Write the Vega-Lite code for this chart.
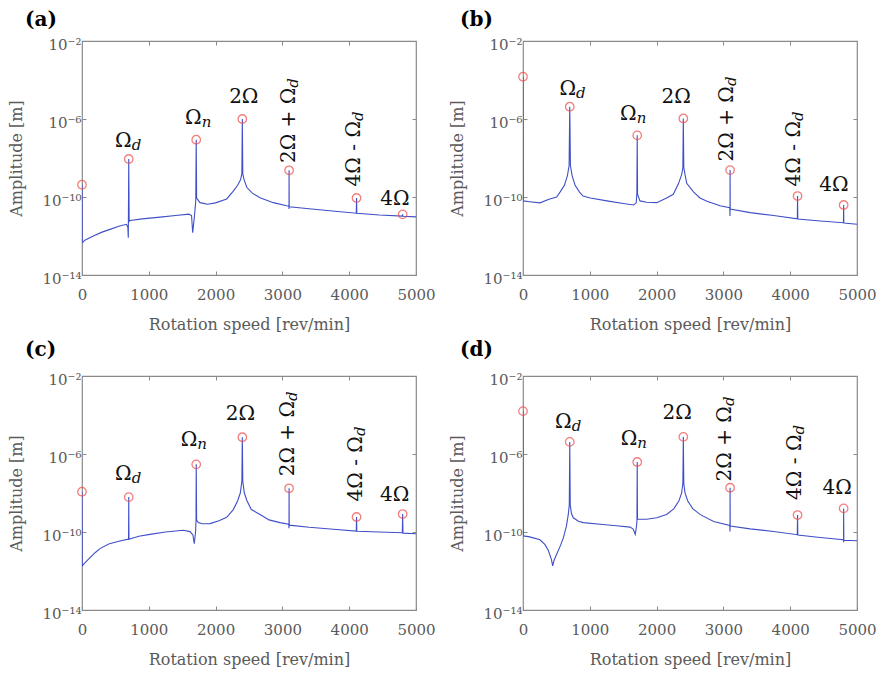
{
 "$schema": "https://vega.github.io/schema/vega-lite/v6.json",
 "background": "white",
 "padding": {"left": 8, "top": 9, "right": 5, "bottom": 5},
 "datasets": {
  "curve": [
   {"panel":"a","speed":0,"amp":4.27e-10},{"panel":"a","speed":3,"amp":4.57e-13},{"panel":"a","speed":50,"amp":6.31e-13},{"panel":"a","speed":170,"amp":1e-12},{"panel":"a","speed":300,"amp":1.58e-12},{"panel":"a","speed":420,"amp":2.19e-12},{"panel":"a","speed":550,"amp":3.16e-12},{"panel":"a","speed":665,"amp":3.98e-12},{"panel":"a","speed":686,"amp":2.82e-12},{"panel":"a","speed":693,"amp":8.13e-13},{"panel":"a","speed":700,"amp":8.91e-9},{"panel":"a","speed":706,"amp":5.62e-12},{"panel":"a","speed":720,"amp":6.31e-12},{"panel":"a","speed":900,"amp":7.59e-12},{"panel":"a","speed":1170,"amp":9.33e-12},{"panel":"a","speed":1400,"amp":1.12e-11},{"panel":"a","speed":1600,"amp":1.32e-11},{"panel":"a","speed":1640,"amp":1.12e-11},{"panel":"a","speed":1657,"amp":1.48e-12},{"panel":"a","speed":1680,"amp":7.94e-12},{"panel":"a","speed":1703,"amp":6.31e-11},{"panel":"a","speed":1710,"amp":8.71e-8},{"panel":"a","speed":1716,"amp":8.91e-11},{"panel":"a","speed":1766,"amp":5.13e-11},{"panel":"a","speed":1880,"amp":4.27e-11},{"panel":"a","speed":2000,"amp":5.01e-11},{"panel":"a","speed":2166,"amp":7.94e-11},{"panel":"a","speed":2265,"amp":2.0e-10},{"panel":"a","speed":2330,"amp":3.98e-10},{"panel":"a","speed":2375,"amp":7.94e-10},{"panel":"a","speed":2393,"amp":1.58e-9},{"panel":"a","speed":2400,"amp":1e-6},{"panel":"a","speed":2407,"amp":1.58e-9},{"panel":"a","speed":2425,"amp":7.94e-10},{"panel":"a","speed":2466,"amp":3.16e-10},{"panel":"a","speed":2550,"amp":1.58e-10},{"panel":"a","speed":2665,"amp":9.12e-11},{"panel":"a","speed":2864,"amp":5.13e-11},{"panel":"a","speed":3064,"amp":3.55e-11},{"panel":"a","speed":3098,"amp":3.39e-11},{"panel":"a","speed":3099,"amp":2.40e-11},{"panel":"a","speed":3100,"amp":2.34e-9},{"panel":"a","speed":3102,"amp":3.16e-11},{"panel":"a","speed":3400,"amp":2.51e-11},{"panel":"a","speed":3750,"amp":1.91e-11},{"panel":"a","speed":4106,"amp":1.48e-11},{"panel":"a","speed":4110,"amp":8.91e-11},{"panel":"a","speed":4114,"amp":1.45e-11},{"panel":"a","speed":4450,"amp":1.20e-11},{"panel":"a","speed":4797,"amp":1.05e-11},{"panel":"a","speed":4800,"amp":1.29e-11},{"panel":"a","speed":4803,"amp":1.02e-11},{"panel":"a","speed":5000,"amp":9.55e-12},
   {"panel":"b","speed":0,"amp":1.48e-4},{"panel":"b","speed":3,"amp":6.31e-11},{"panel":"b","speed":100,"amp":5.75e-11},{"panel":"b","speed":254,"amp":5.01e-11},{"panel":"b","speed":400,"amp":7.94e-11},{"panel":"b","speed":504,"amp":1e-10},{"panel":"b","speed":554,"amp":1.78e-10},{"panel":"b","speed":620,"amp":3.98e-10},{"panel":"b","speed":665,"amp":1.26e-9},{"panel":"b","speed":690,"amp":3.98e-9},{"panel":"b","speed":700,"amp":4.27e-6},{"panel":"b","speed":710,"amp":3.98e-9},{"panel":"b","speed":735,"amp":1.26e-9},{"panel":"b","speed":780,"amp":3.98e-10},{"panel":"b","speed":846,"amp":1.78e-10},{"panel":"b","speed":900,"amp":1.12e-10},{"panel":"b","speed":1008,"amp":8.91e-11},{"panel":"b","speed":1257,"amp":6.31e-11},{"panel":"b","speed":1500,"amp":4.68e-11},{"panel":"b","speed":1657,"amp":3.89e-11},{"panel":"b","speed":1695,"amp":5.01e-11},{"panel":"b","speed":1705,"amp":1.58e-10},{"panel":"b","speed":1710,"amp":1.45e-7},{"panel":"b","speed":1715,"amp":1.38e-10},{"panel":"b","speed":1751,"amp":6.31e-11},{"panel":"b","speed":1850,"amp":5.37e-11},{"panel":"b","speed":2001,"amp":5.13e-11},{"panel":"b","speed":2150,"amp":8.91e-11},{"panel":"b","speed":2250,"amp":1.38e-10},{"panel":"b","speed":2330,"amp":5.01e-10},{"panel":"b","speed":2376,"amp":1.45e-9},{"panel":"b","speed":2393,"amp":3.16e-9},{"panel":"b","speed":2400,"amp":1.07e-6},{"panel":"b","speed":2407,"amp":3.16e-9},{"panel":"b","speed":2425,"amp":1.45e-9},{"panel":"b","speed":2451,"amp":5.01e-10},{"panel":"b","speed":2555,"amp":1.78e-10},{"panel":"b","speed":2650,"amp":8.91e-11},{"panel":"b","speed":2754,"amp":6.03e-11},{"panel":"b","speed":2950,"amp":3.55e-11},{"panel":"b","speed":3095,"amp":2.82e-11},{"panel":"b","speed":3099,"amp":1.07e-11},{"panel":"b","speed":3100,"amp":2.40e-9},{"panel":"b","speed":3102,"amp":2.40e-11},{"panel":"b","speed":3400,"amp":1.58e-11},{"panel":"b","speed":3752,"amp":1.12e-11},{"panel":"b","speed":4107,"amp":7.59e-12},{"panel":"b","speed":4110,"amp":1.12e-10},{"panel":"b","speed":4114,"amp":7.41e-12},{"panel":"b","speed":4450,"amp":5.89e-12},{"panel":"b","speed":4797,"amp":4.79e-12},{"panel":"b","speed":4800,"amp":3.89e-11},{"panel":"b","speed":4803,"amp":4.68e-12},{"panel":"b","speed":5000,"amp":3.98e-12},
   {"panel":"c","speed":0,"amp":1.17e-8},{"panel":"c","speed":3,"amp":1.82e-12},{"panel":"c","speed":40,"amp":2.51e-12},{"panel":"c","speed":120,"amp":4.79e-12},{"panel":"c","speed":200,"amp":8.91e-12},{"panel":"c","speed":269,"amp":1.41e-11},{"panel":"c","speed":400,"amp":2.40e-11},{"panel":"c","speed":550,"amp":3.39e-11},{"panel":"c","speed":693,"amp":4.27e-11},{"panel":"c","speed":697,"amp":3.98e-11},{"panel":"c","speed":700,"amp":6.17e-9},{"panel":"c","speed":703,"amp":4.27e-11},{"panel":"c","speed":850,"amp":6.03e-11},{"panel":"c","speed":1018,"amp":7.59e-11},{"panel":"c","speed":1250,"amp":1e-10},{"panel":"c","speed":1517,"amp":1.23e-10},{"panel":"c","speed":1617,"amp":1.05e-10},{"panel":"c","speed":1660,"amp":7.08e-11},{"panel":"c","speed":1681,"amp":2.51e-11},{"panel":"c","speed":1700,"amp":1e-10},{"panel":"c","speed":1707,"amp":3.98e-10},{"panel":"c","speed":1710,"amp":2.95e-7},{"panel":"c","speed":1716,"amp":3.98e-10},{"panel":"c","speed":1741,"amp":3.02e-10},{"panel":"c","speed":1800,"amp":2.63e-10},{"panel":"c","speed":1916,"amp":2.69e-10},{"panel":"c","speed":2050,"amp":3.80e-10},{"panel":"c","speed":2166,"amp":5.62e-10},{"panel":"c","speed":2265,"amp":1.41e-9},{"panel":"c","speed":2330,"amp":3.98e-9},{"panel":"c","speed":2370,"amp":1e-8},{"panel":"c","speed":2393,"amp":3.98e-8},{"panel":"c","speed":2400,"amp":7.24e-6},{"panel":"c","speed":2407,"amp":3.98e-8},{"panel":"c","speed":2430,"amp":1e-8},{"panel":"c","speed":2470,"amp":3.98e-9},{"panel":"c","speed":2535,"amp":1.41e-9},{"panel":"c","speed":2665,"amp":7.94e-10},{"panel":"c","speed":2800,"amp":4.17e-10},{"panel":"c","speed":2964,"amp":3.02e-10},{"panel":"c","speed":3095,"amp":2.51e-10},{"panel":"c","speed":3099,"amp":1.58e-10},{"panel":"c","speed":3100,"amp":1.74e-8},{"panel":"c","speed":3102,"amp":2.24e-10},{"panel":"c","speed":3400,"amp":1.74e-10},{"panel":"c","speed":3762,"amp":1.38e-10},{"panel":"c","speed":4106,"amp":1.12e-10},{"panel":"c","speed":4110,"amp":5.89e-10},{"panel":"c","speed":4114,"amp":1.10e-10},{"panel":"c","speed":4450,"amp":1e-10},{"panel":"c","speed":4795,"amp":9.12e-11},{"panel":"c","speed":4800,"amp":8.32e-10},{"panel":"c","speed":4805,"amp":8.71e-11},{"panel":"c","speed":5000,"amp":8.13e-11},
   {"panel":"d","speed":0,"amp":1.58e-4},{"panel":"d","speed":3,"amp":6.31e-11},{"panel":"d","speed":100,"amp":5.62e-11},{"panel":"d","speed":254,"amp":3.98e-11},{"panel":"d","speed":330,"amp":2.24e-11},{"panel":"d","speed":379,"amp":1.12e-11},{"panel":"d","speed":425,"amp":3.98e-12},{"panel":"d","speed":444,"amp":1.82e-12},{"panel":"d","speed":465,"amp":3.55e-12},{"panel":"d","speed":504,"amp":7.24e-12},{"panel":"d","speed":560,"amp":2.0e-11},{"panel":"d","speed":604,"amp":5.01e-11},{"panel":"d","speed":650,"amp":2.0e-10},{"panel":"d","speed":678,"amp":7.94e-10},{"panel":"d","speed":693,"amp":2.51e-9},{"panel":"d","speed":700,"amp":4.17e-6},{"panel":"d","speed":707,"amp":2.51e-9},{"panel":"d","speed":725,"amp":8.91e-10},{"panel":"d","speed":753,"amp":5.37e-10},{"panel":"d","speed":830,"amp":3.55e-10},{"panel":"d","speed":903,"amp":3.02e-10},{"panel":"d","speed":1153,"amp":2.51e-10},{"panel":"d","speed":1400,"amp":2.09e-10},{"panel":"d","speed":1602,"amp":1.78e-10},{"panel":"d","speed":1650,"amp":1.41e-10},{"panel":"d","speed":1680,"amp":7.59e-11},{"panel":"d","speed":1700,"amp":2.0e-10},{"panel":"d","speed":1706,"amp":3.98e-10},{"panel":"d","speed":1710,"amp":3.89e-7},{"panel":"d","speed":1714,"amp":4.47e-10},{"panel":"d","speed":1751,"amp":4.47e-10},{"panel":"d","speed":1850,"amp":4.47e-10},{"panel":"d","speed":2001,"amp":5.37e-10},{"panel":"d","speed":2150,"amp":7.94e-10},{"panel":"d","speed":2260,"amp":1.58e-9},{"panel":"d","speed":2335,"amp":3.98e-9},{"panel":"d","speed":2375,"amp":1e-8},{"panel":"d","speed":2393,"amp":3.16e-8},{"panel":"d","speed":2400,"amp":7.59e-6},{"panel":"d","speed":2407,"amp":3.16e-8},{"panel":"d","speed":2425,"amp":1e-8},{"panel":"d","speed":2465,"amp":3.98e-9},{"panel":"d","speed":2540,"amp":1.58e-9},{"panel":"d","speed":2655,"amp":7.76e-10},{"panel":"d","speed":2854,"amp":3.47e-10},{"panel":"d","speed":3095,"amp":2.19e-10},{"panel":"d","speed":3099,"amp":1.07e-10},{"panel":"d","speed":3100,"amp":1.86e-8},{"panel":"d","speed":3102,"amp":2.0e-10},{"panel":"d","speed":3400,"amp":1.45e-10},{"panel":"d","speed":3752,"amp":1.07e-10},{"panel":"d","speed":4106,"amp":7.24e-11},{"panel":"d","speed":4110,"amp":7.41e-10},{"panel":"d","speed":4114,"amp":7.08e-11},{"panel":"d","speed":4450,"amp":5.25e-11},{"panel":"d","speed":4797,"amp":3.98e-11},{"panel":"d","speed":4799,"amp":3.02e-11},{"panel":"d","speed":4800,"amp":1.62e-9},{"panel":"d","speed":4803,"amp":3.80e-11},{"panel":"d","speed":5000,"amp":3.55e-11}
  ],
  "peak": [
   {"panel":"a","speed":0,"amp":4.27e-10},{"panel":"a","speed":700,"amp":8.91e-9},{"panel":"a","speed":1710,"amp":8.71e-8},{"panel":"a","speed":2400,"amp":1e-6},{"panel":"a","speed":3100,"amp":2.34e-9},{"panel":"a","speed":4110,"amp":8.91e-11},{"panel":"a","speed":4800,"amp":1.29e-11},
   {"panel":"b","speed":0,"amp":1.48e-4},{"panel":"b","speed":700,"amp":4.27e-6},{"panel":"b","speed":1710,"amp":1.45e-7},{"panel":"b","speed":2400,"amp":1.07e-6},{"panel":"b","speed":3100,"amp":2.40e-9},{"panel":"b","speed":4110,"amp":1.12e-10},{"panel":"b","speed":4800,"amp":3.89e-11},
   {"panel":"c","speed":0,"amp":1.17e-8},{"panel":"c","speed":700,"amp":6.17e-9},{"panel":"c","speed":1710,"amp":2.95e-7},{"panel":"c","speed":2400,"amp":7.24e-6},{"panel":"c","speed":3100,"amp":1.74e-8},{"panel":"c","speed":4110,"amp":5.89e-10},{"panel":"c","speed":4800,"amp":8.32e-10},
   {"panel":"d","speed":0,"amp":1.58e-4},{"panel":"d","speed":700,"amp":4.17e-6},{"panel":"d","speed":1710,"amp":3.89e-7},{"panel":"d","speed":2400,"amp":7.59e-6},{"panel":"d","speed":3100,"amp":1.86e-8},{"panel":"d","speed":4110,"amp":7.41e-10},{"panel":"d","speed":4800,"amp":1.62e-9}
  ],
  "label": [
   {"panel":"a","speed":744,"amp":3.66e-8,"main":"Ω","sub":"d","dir":"h"},{"panel":"a","speed":1792,"amp":5.35e-7,"main":"Ω","sub":"n","dir":"h"},{"panel":"a","speed":2422,"amp":6.85e-6,"main":"2Ω","sub":"","dir":"h"},{"panel":"a","speed":3189,"amp":4.03e-5,"main":"2Ω + Ω","sub":"d","dir":"v"},{"panel":"a","speed":4162,"amp":7.89e-7,"main":"4Ω - Ω","sub":"d","dir":"v"},{"panel":"a","speed":4686,"amp":3.89e-11,"main":"4Ω","sub":"","dir":"h"},
   {"panel":"b","speed":793,"amp":1.70e-5,"main":"Ω","sub":"d","dir":"h"},{"panel":"b","speed":1702,"amp":8.51e-7,"main":"Ω","sub":"n","dir":"h"},{"panel":"b","speed":2293,"amp":6.85e-6,"main":"2Ω","sub":"","dir":"h"},{"panel":"b","speed":3139,"amp":4.90e-5,"main":"2Ω + Ω","sub":"d","dir":"v"},{"panel":"b","speed":4147,"amp":7.89e-7,"main":"4Ω - Ω","sub":"d","dir":"v"},{"panel":"b","speed":4653,"amp":2.04e-10,"main":"4Ω","sub":"","dir":"h"},
   {"panel":"c","speed":744,"amp":4.47e-8,"main":"Ω","sub":"d","dir":"h"},{"panel":"c","speed":1726,"amp":2.57e-6,"main":"Ω","sub":"n","dir":"h"},{"panel":"c","speed":2373,"amp":5.50e-5,"main":"2Ω","sub":"","dir":"h"},{"panel":"c","speed":3174,"amp":5.25e-4,"main":"2Ω + Ω","sub":"d","dir":"v"},{"panel":"c","speed":4196,"amp":8.32e-6,"main":"4Ω - Ω","sub":"d","dir":"v"},{"panel":"c","speed":4681,"amp":3.89e-9,"main":"4Ω","sub":"","dir":"h"},
   {"panel":"d","speed":729,"amp":2.09e-5,"main":"Ω","sub":"d","dir":"h"},{"panel":"d","speed":1711,"amp":2.82e-6,"main":"Ω","sub":"n","dir":"h"},{"panel":"d","speed":2308,"amp":6.03e-5,"main":"2Ω","sub":"","dir":"h"},{"panel":"d","speed":3109,"amp":2.88e-4,"main":"2Ω + Ω","sub":"d","dir":"v"},{"panel":"d","speed":4157,"amp":1e-5,"main":"4Ω - Ω","sub":"d","dir":"v"},{"panel":"d","speed":4703,"amp":8.51e-9,"main":"4Ω","sub":"","dir":"h"}
  ],
  "tag": [
   {"panel":"a","speed":-853,"amp":5.89e-2,"tag":"(a)"},{"panel":"b","speed":-943,"amp":5.89e-2,"tag":"(b)"},{"panel":"c","speed":-853,"amp":1.07e-1,"tag":"(c)"},{"panel":"d","speed":-943,"amp":1.07e-1,"tag":"(d)"}
  ]
 },
 "columns": 2,
 "spacing": {"row": 101, "column": 107},
 "bounds": "flush",
 "concat": [
  {"width":334,"height":234,"resolve":{"axis":{"x":"independent","y":"independent"}},
   "layer":[
    {"data":{"name":"curve"},"transform":[{"filter":"datum.panel=='a'"}],"mark":{"type":"line","color":"#3f4fc8","strokeWidth":1.1,"clip":true},
     "encoding":{"x":{"field":"speed","type":"quantitative","scale":{"domain":[0,5000]},"axis":{"orient":"bottom","values":[0,1000,2000,3000,4000,5000],"format":"d","title":"Rotation speed [rev/min]"}},
                 "y":{"field":"amp","type":"quantitative","scale":{"type":"log","domain":[1e-14,1e-2]},"axis":{"orient":"left","values":[1e-14,1e-10,1e-6,1e-2],"title":"Amplitude [m]","labelExpr":"'10' + (round(log(datum.value)/LN10) == -2 ? '⁻²' : round(log(datum.value)/LN10) == -6 ? '⁻⁶' : round(log(datum.value)/LN10) == -10 ? '⁻¹⁰' : '⁻¹⁴')"}}}},
    {"data":{"name":"peak"},"transform":[{"filter":"datum.panel=='a'"}],"mark":{"type":"point","shape":"circle","filled":false,"size":72,"color":"#f04848","strokeWidth":1.3},
     "encoding":{"x":{"field":"speed","type":"quantitative","scale":{"domain":[0,5000]},"axis":{"orient":"top","values":[1000,2000,3000,4000],"labels":false,"title":null}},
                 "y":{"field":"amp","type":"quantitative","scale":{"type":"log","domain":[1e-14,1e-2]},"axis":{"orient":"right","values":[1e-10,1e-6],"labels":false,"title":null}}}},
    {"data":{"name":"tag"},"transform":[{"filter":"datum.panel=='a'"}],"mark":{"type":"text","fontSize":20,"fontWeight":"bold","color":"#000","align":"left","baseline":"alphabetic"},
     "encoding":{"x":{"field":"speed","type":"quantitative","scale":{"domain":[0,5000]},"axis":null},"y":{"field":"amp","type":"quantitative","scale":{"type":"log","domain":[1e-14,1e-2]},"axis":null},"text":{"field":"tag"}}},
    {"data":{"name":"label"},"transform":[{"filter":"datum.panel=='a' && datum.sub==''"}],"mark":{"type":"text","fontSize":20,"color":"#111","align":"center","baseline":"alphabetic"},
     "encoding":{"x":{"field":"speed","type":"quantitative","scale":{"domain":[0,5000]},"axis":null},"y":{"field":"amp","type":"quantitative","scale":{"type":"log","domain":[1e-14,1e-2]},"axis":null},"text":{"field":"main"}}},
    {"data":{"name":"label"},"transform":[{"filter":"datum.panel=='a' && datum.sub!='' && datum.dir=='h'"}],"mark":{"type":"text","fontSize":20,"color":"#111","align":"right","baseline":"alphabetic"},
     "encoding":{"x":{"field":"speed","type":"quantitative","scale":{"domain":[0,5000]},"axis":null},"y":{"field":"amp","type":"quantitative","scale":{"type":"log","domain":[1e-14,1e-2]},"axis":null},"text":{"field":"main"}}},
    {"data":{"name":"label"},"transform":[{"filter":"datum.panel=='a' && datum.sub!='' && datum.dir=='h'"}],"mark":{"type":"text","fontSize":15,"fontStyle":"italic","color":"#111","align":"left","baseline":"alphabetic","dy":3},
     "encoding":{"x":{"field":"speed","type":"quantitative","scale":{"domain":[0,5000]},"axis":null},"y":{"field":"amp","type":"quantitative","scale":{"type":"log","domain":[1e-14,1e-2]},"axis":null},"text":{"field":"sub"}}},
    {"data":{"name":"label"},"transform":[{"filter":"datum.panel=='a' && datum.dir=='v'"}],"mark":{"type":"text","fontSize":20,"color":"#111","align":"right","baseline":"alphabetic","angle":270},
     "encoding":{"x":{"field":"speed","type":"quantitative","scale":{"domain":[0,5000]},"axis":null},"y":{"field":"amp","type":"quantitative","scale":{"type":"log","domain":[1e-14,1e-2]},"axis":null},"text":{"field":"main"}}},
    {"data":{"name":"label"},"transform":[{"filter":"datum.panel=='a' && datum.dir=='v'"}],"mark":{"type":"text","fontSize":15,"fontStyle":"italic","color":"#111","align":"left","baseline":"alphabetic","angle":270,"dy":3},
     "encoding":{"x":{"field":"speed","type":"quantitative","scale":{"domain":[0,5000]},"axis":null},"y":{"field":"amp","type":"quantitative","scale":{"type":"log","domain":[1e-14,1e-2]},"axis":null},"text":{"field":"sub"}}}
   ]},
  {"width":334,"height":234,"resolve":{"axis":{"x":"independent","y":"independent"}},
   "layer":[
    {"data":{"name":"curve"},"transform":[{"filter":"datum.panel=='b'"}],"mark":{"type":"line","color":"#3f4fc8","strokeWidth":1.1,"clip":true},
     "encoding":{"x":{"field":"speed","type":"quantitative","scale":{"domain":[0,5000]},"axis":{"orient":"bottom","values":[0,1000,2000,3000,4000,5000],"format":"d","title":"Rotation speed [rev/min]"}},
                 "y":{"field":"amp","type":"quantitative","scale":{"type":"log","domain":[1e-14,1e-2]},"axis":{"orient":"left","values":[1e-14,1e-10,1e-6,1e-2],"title":"Amplitude [m]","labelExpr":"'10' + (round(log(datum.value)/LN10) == -2 ? '⁻²' : round(log(datum.value)/LN10) == -6 ? '⁻⁶' : round(log(datum.value)/LN10) == -10 ? '⁻¹⁰' : '⁻¹⁴')"}}}},
    {"data":{"name":"peak"},"transform":[{"filter":"datum.panel=='b'"}],"mark":{"type":"point","shape":"circle","filled":false,"size":72,"color":"#f04848","strokeWidth":1.3},
     "encoding":{"x":{"field":"speed","type":"quantitative","scale":{"domain":[0,5000]},"axis":{"orient":"top","values":[1000,2000,3000,4000],"labels":false,"title":null}},
                 "y":{"field":"amp","type":"quantitative","scale":{"type":"log","domain":[1e-14,1e-2]},"axis":{"orient":"right","values":[1e-10,1e-6],"labels":false,"title":null}}}},
    {"data":{"name":"tag"},"transform":[{"filter":"datum.panel=='b'"}],"mark":{"type":"text","fontSize":20,"fontWeight":"bold","color":"#000","align":"left","baseline":"alphabetic"},
     "encoding":{"x":{"field":"speed","type":"quantitative","scale":{"domain":[0,5000]},"axis":null},"y":{"field":"amp","type":"quantitative","scale":{"type":"log","domain":[1e-14,1e-2]},"axis":null},"text":{"field":"tag"}}},
    {"data":{"name":"label"},"transform":[{"filter":"datum.panel=='b' && datum.sub==''"}],"mark":{"type":"text","fontSize":20,"color":"#111","align":"center","baseline":"alphabetic"},
     "encoding":{"x":{"field":"speed","type":"quantitative","scale":{"domain":[0,5000]},"axis":null},"y":{"field":"amp","type":"quantitative","scale":{"type":"log","domain":[1e-14,1e-2]},"axis":null},"text":{"field":"main"}}},
    {"data":{"name":"label"},"transform":[{"filter":"datum.panel=='b' && datum.sub!='' && datum.dir=='h'"}],"mark":{"type":"text","fontSize":20,"color":"#111","align":"right","baseline":"alphabetic"},
     "encoding":{"x":{"field":"speed","type":"quantitative","scale":{"domain":[0,5000]},"axis":null},"y":{"field":"amp","type":"quantitative","scale":{"type":"log","domain":[1e-14,1e-2]},"axis":null},"text":{"field":"main"}}},
    {"data":{"name":"label"},"transform":[{"filter":"datum.panel=='b' && datum.sub!='' && datum.dir=='h'"}],"mark":{"type":"text","fontSize":15,"fontStyle":"italic","color":"#111","align":"left","baseline":"alphabetic","dy":3},
     "encoding":{"x":{"field":"speed","type":"quantitative","scale":{"domain":[0,5000]},"axis":null},"y":{"field":"amp","type":"quantitative","scale":{"type":"log","domain":[1e-14,1e-2]},"axis":null},"text":{"field":"sub"}}},
    {"data":{"name":"label"},"transform":[{"filter":"datum.panel=='b' && datum.dir=='v'"}],"mark":{"type":"text","fontSize":20,"color":"#111","align":"right","baseline":"alphabetic","angle":270},
     "encoding":{"x":{"field":"speed","type":"quantitative","scale":{"domain":[0,5000]},"axis":null},"y":{"field":"amp","type":"quantitative","scale":{"type":"log","domain":[1e-14,1e-2]},"axis":null},"text":{"field":"main"}}},
    {"data":{"name":"label"},"transform":[{"filter":"datum.panel=='b' && datum.dir=='v'"}],"mark":{"type":"text","fontSize":15,"fontStyle":"italic","color":"#111","align":"left","baseline":"alphabetic","angle":270,"dy":3},
     "encoding":{"x":{"field":"speed","type":"quantitative","scale":{"domain":[0,5000]},"axis":null},"y":{"field":"amp","type":"quantitative","scale":{"type":"log","domain":[1e-14,1e-2]},"axis":null},"text":{"field":"sub"}}}
   ]},
  {"width":334,"height":234,"resolve":{"axis":{"x":"independent","y":"independent"}},
   "layer":[
    {"data":{"name":"curve"},"transform":[{"filter":"datum.panel=='c'"}],"mark":{"type":"line","color":"#3f4fc8","strokeWidth":1.1,"clip":true},
     "encoding":{"x":{"field":"speed","type":"quantitative","scale":{"domain":[0,5000]},"axis":{"orient":"bottom","values":[0,1000,2000,3000,4000,5000],"format":"d","title":"Rotation speed [rev/min]"}},
                 "y":{"field":"amp","type":"quantitative","scale":{"type":"log","domain":[1e-14,1e-2]},"axis":{"orient":"left","values":[1e-14,1e-10,1e-6,1e-2],"title":"Amplitude [m]","labelExpr":"'10' + (round(log(datum.value)/LN10) == -2 ? '⁻²' : round(log(datum.value)/LN10) == -6 ? '⁻⁶' : round(log(datum.value)/LN10) == -10 ? '⁻¹⁰' : '⁻¹⁴')"}}}},
    {"data":{"name":"peak"},"transform":[{"filter":"datum.panel=='c'"}],"mark":{"type":"point","shape":"circle","filled":false,"size":72,"color":"#f04848","strokeWidth":1.3},
     "encoding":{"x":{"field":"speed","type":"quantitative","scale":{"domain":[0,5000]},"axis":{"orient":"top","values":[1000,2000,3000,4000],"labels":false,"title":null}},
                 "y":{"field":"amp","type":"quantitative","scale":{"type":"log","domain":[1e-14,1e-2]},"axis":{"orient":"right","values":[1e-10,1e-6],"labels":false,"title":null}}}},
    {"data":{"name":"tag"},"transform":[{"filter":"datum.panel=='c'"}],"mark":{"type":"text","fontSize":20,"fontWeight":"bold","color":"#000","align":"left","baseline":"alphabetic"},
     "encoding":{"x":{"field":"speed","type":"quantitative","scale":{"domain":[0,5000]},"axis":null},"y":{"field":"amp","type":"quantitative","scale":{"type":"log","domain":[1e-14,1e-2]},"axis":null},"text":{"field":"tag"}}},
    {"data":{"name":"label"},"transform":[{"filter":"datum.panel=='c' && datum.sub==''"}],"mark":{"type":"text","fontSize":20,"color":"#111","align":"center","baseline":"alphabetic"},
     "encoding":{"x":{"field":"speed","type":"quantitative","scale":{"domain":[0,5000]},"axis":null},"y":{"field":"amp","type":"quantitative","scale":{"type":"log","domain":[1e-14,1e-2]},"axis":null},"text":{"field":"main"}}},
    {"data":{"name":"label"},"transform":[{"filter":"datum.panel=='c' && datum.sub!='' && datum.dir=='h'"}],"mark":{"type":"text","fontSize":20,"color":"#111","align":"right","baseline":"alphabetic"},
     "encoding":{"x":{"field":"speed","type":"quantitative","scale":{"domain":[0,5000]},"axis":null},"y":{"field":"amp","type":"quantitative","scale":{"type":"log","domain":[1e-14,1e-2]},"axis":null},"text":{"field":"main"}}},
    {"data":{"name":"label"},"transform":[{"filter":"datum.panel=='c' && datum.sub!='' && datum.dir=='h'"}],"mark":{"type":"text","fontSize":15,"fontStyle":"italic","color":"#111","align":"left","baseline":"alphabetic","dy":3},
     "encoding":{"x":{"field":"speed","type":"quantitative","scale":{"domain":[0,5000]},"axis":null},"y":{"field":"amp","type":"quantitative","scale":{"type":"log","domain":[1e-14,1e-2]},"axis":null},"text":{"field":"sub"}}},
    {"data":{"name":"label"},"transform":[{"filter":"datum.panel=='c' && datum.dir=='v'"}],"mark":{"type":"text","fontSize":20,"color":"#111","align":"right","baseline":"alphabetic","angle":270},
     "encoding":{"x":{"field":"speed","type":"quantitative","scale":{"domain":[0,5000]},"axis":null},"y":{"field":"amp","type":"quantitative","scale":{"type":"log","domain":[1e-14,1e-2]},"axis":null},"text":{"field":"main"}}},
    {"data":{"name":"label"},"transform":[{"filter":"datum.panel=='c' && datum.dir=='v'"}],"mark":{"type":"text","fontSize":15,"fontStyle":"italic","color":"#111","align":"left","baseline":"alphabetic","angle":270,"dy":3},
     "encoding":{"x":{"field":"speed","type":"quantitative","scale":{"domain":[0,5000]},"axis":null},"y":{"field":"amp","type":"quantitative","scale":{"type":"log","domain":[1e-14,1e-2]},"axis":null},"text":{"field":"sub"}}}
   ]},
  {"width":334,"height":234,"resolve":{"axis":{"x":"independent","y":"independent"}},
   "layer":[
    {"data":{"name":"curve"},"transform":[{"filter":"datum.panel=='d'"}],"mark":{"type":"line","color":"#3f4fc8","strokeWidth":1.1,"clip":true},
     "encoding":{"x":{"field":"speed","type":"quantitative","scale":{"domain":[0,5000]},"axis":{"orient":"bottom","values":[0,1000,2000,3000,4000,5000],"format":"d","title":"Rotation speed [rev/min]"}},
                 "y":{"field":"amp","type":"quantitative","scale":{"type":"log","domain":[1e-14,1e-2]},"axis":{"orient":"left","values":[1e-14,1e-10,1e-6,1e-2],"title":"Amplitude [m]","labelExpr":"'10' + (round(log(datum.value)/LN10) == -2 ? '⁻²' : round(log(datum.value)/LN10) == -6 ? '⁻⁶' : round(log(datum.value)/LN10) == -10 ? '⁻¹⁰' : '⁻¹⁴')"}}}},
    {"data":{"name":"peak"},"transform":[{"filter":"datum.panel=='d'"}],"mark":{"type":"point","shape":"circle","filled":false,"size":72,"color":"#f04848","strokeWidth":1.3},
     "encoding":{"x":{"field":"speed","type":"quantitative","scale":{"domain":[0,5000]},"axis":{"orient":"top","values":[1000,2000,3000,4000],"labels":false,"title":null}},
                 "y":{"field":"amp","type":"quantitative","scale":{"type":"log","domain":[1e-14,1e-2]},"axis":{"orient":"right","values":[1e-10,1e-6],"labels":false,"title":null}}}},
    {"data":{"name":"tag"},"transform":[{"filter":"datum.panel=='d'"}],"mark":{"type":"text","fontSize":20,"fontWeight":"bold","color":"#000","align":"left","baseline":"alphabetic"},
     "encoding":{"x":{"field":"speed","type":"quantitative","scale":{"domain":[0,5000]},"axis":null},"y":{"field":"amp","type":"quantitative","scale":{"type":"log","domain":[1e-14,1e-2]},"axis":null},"text":{"field":"tag"}}},
    {"data":{"name":"label"},"transform":[{"filter":"datum.panel=='d' && datum.sub==''"}],"mark":{"type":"text","fontSize":20,"color":"#111","align":"center","baseline":"alphabetic"},
     "encoding":{"x":{"field":"speed","type":"quantitative","scale":{"domain":[0,5000]},"axis":null},"y":{"field":"amp","type":"quantitative","scale":{"type":"log","domain":[1e-14,1e-2]},"axis":null},"text":{"field":"main"}}},
    {"data":{"name":"label"},"transform":[{"filter":"datum.panel=='d' && datum.sub!='' && datum.dir=='h'"}],"mark":{"type":"text","fontSize":20,"color":"#111","align":"right","baseline":"alphabetic"},
     "encoding":{"x":{"field":"speed","type":"quantitative","scale":{"domain":[0,5000]},"axis":null},"y":{"field":"amp","type":"quantitative","scale":{"type":"log","domain":[1e-14,1e-2]},"axis":null},"text":{"field":"main"}}},
    {"data":{"name":"label"},"transform":[{"filter":"datum.panel=='d' && datum.sub!='' && datum.dir=='h'"}],"mark":{"type":"text","fontSize":15,"fontStyle":"italic","color":"#111","align":"left","baseline":"alphabetic","dy":3},
     "encoding":{"x":{"field":"speed","type":"quantitative","scale":{"domain":[0,5000]},"axis":null},"y":{"field":"amp","type":"quantitative","scale":{"type":"log","domain":[1e-14,1e-2]},"axis":null},"text":{"field":"sub"}}},
    {"data":{"name":"label"},"transform":[{"filter":"datum.panel=='d' && datum.dir=='v'"}],"mark":{"type":"text","fontSize":20,"color":"#111","align":"right","baseline":"alphabetic","angle":270},
     "encoding":{"x":{"field":"speed","type":"quantitative","scale":{"domain":[0,5000]},"axis":null},"y":{"field":"amp","type":"quantitative","scale":{"type":"log","domain":[1e-14,1e-2]},"axis":null},"text":{"field":"main"}}},
    {"data":{"name":"label"},"transform":[{"filter":"datum.panel=='d' && datum.dir=='v'"}],"mark":{"type":"text","fontSize":15,"fontStyle":"italic","color":"#111","align":"left","baseline":"alphabetic","angle":270,"dy":3},
     "encoding":{"x":{"field":"speed","type":"quantitative","scale":{"domain":[0,5000]},"axis":null},"y":{"field":"amp","type":"quantitative","scale":{"type":"log","domain":[1e-14,1e-2]},"axis":null},"text":{"field":"sub"}}}
   ]}
 ],
 "config": {
  "view": {"stroke": "#8a8a8a", "strokeWidth": 1.2},
  "font": "DejaVu Serif",
  "text": {"font": "DejaVu Serif"},
  "axis": {"grid": false, "domain": false, "tickColor": "#8a8a8a", "tickSize": -4, "tickWidth": 1, "labelFont": "DejaVu Serif", "labelFontSize": 15, "labelColor": "#5a5a5a", "labelFlush": false, "labelOverlap": false, "labelPadding": 16, "titleFont": "DejaVu Serif", "titleFontSize": 16, "titleFontWeight": "normal", "titleColor": "#5a5a5a", "titlePadding": 14},
  "axisY": {"labelBaseline": "middle", "labelOffset": 3, "labelPadding": 5, "titlePadding": 17}
 }
}
